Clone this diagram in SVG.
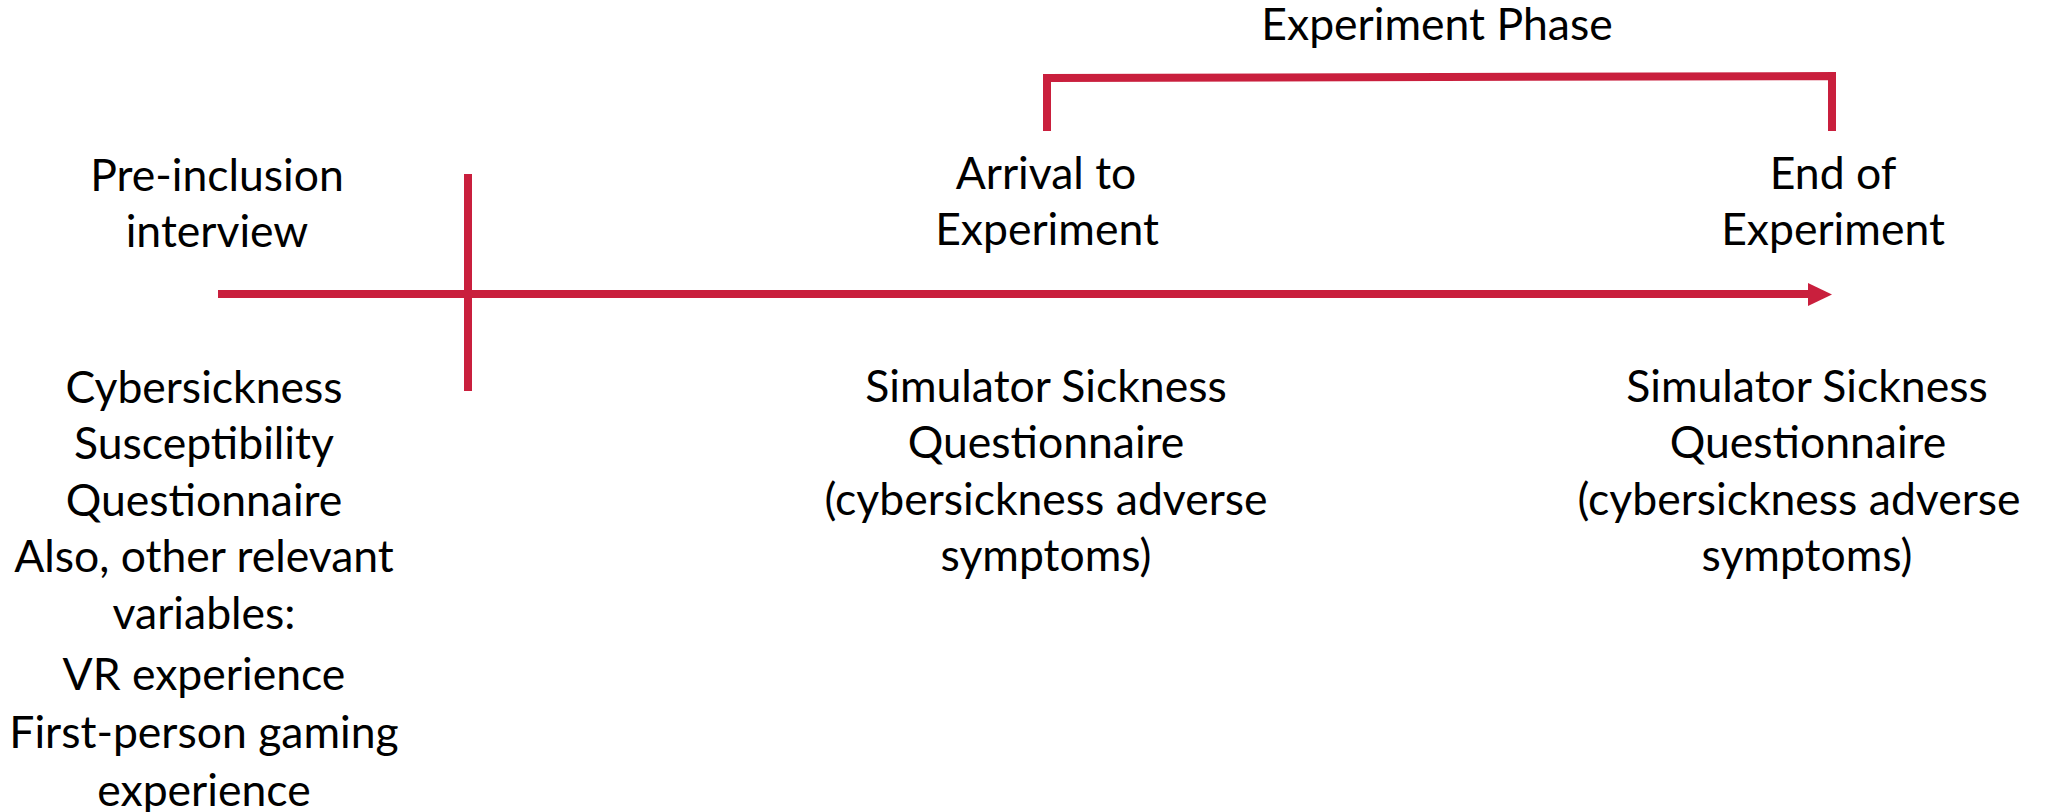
<svg xmlns="http://www.w3.org/2000/svg" width="2049" height="812" viewBox="0 0 2049 812">
<style>
  .t { font-family: Lato, "Open Sans", "Liberation Sans", sans-serif; font-size: 44.5px; fill: #000; text-anchor: middle; }
  .ln { stroke: #C91F3D; stroke-width: 8; fill: none; }
</style>
<rect width="2049" height="812" fill="#fff"/>
<g id="connectors">
  <line class="ln" x1="218" y1="294" x2="1812" y2="294"/>
  <polygon points="1808,283 1832,294.5 1808,306" fill="#C91F3D"/>
  <line class="ln" x1="468" y1="174" x2="468" y2="391"/>
  <polyline class="ln" points="1047,131 1047,78 1832,76 1832,131" stroke-linejoin="miter" stroke-linecap="butt"/>
</g>
<g id="phase-label">
  <text class="t" x="1437" y="40">Experiment Phase</text>
</g>
<g id="pre-inclusion">
  <text class="t" x="217" y="191">Pre-inclusion</text>
  <text class="t" x="217" y="247">interview</text>
</g>
<g id="arrival">
  <text class="t" x="1046" y="189">Arrival to</text>
  <text class="t" x="1047" y="245">Experiment</text>
</g>
<g id="end">
  <text class="t" x="1833" y="189">End of</text>
  <text class="t" x="1833" y="245">Experiment</text>
</g>
<g id="pre-inclusion-measures">
  <text class="t" x="204" y="403">Cybersickness</text>
  <text class="t" x="204" y="459">Susceptibility</text>
  <text class="t" x="204" y="516">Questionnaire</text>
  <text class="t" x="204" y="572">Also, other relevant</text>
  <text class="t" x="204" y="629">variables:</text>
  <text class="t" x="204" y="690">VR experience</text>
  <text class="t" x="204" y="748">First-person gaming</text>
  <text class="t" x="204" y="806">experience</text>
</g>
<g id="arrival-measures">
  <text class="t" x="1046" y="402">Simulator Sickness</text>
  <text class="t" x="1046" y="458">Questionnaire</text>
  <text class="t" x="1046" y="515">(cybersickness adverse</text>
  <text class="t" x="1046" y="571">symptoms)</text>
</g>
<g id="end-measures">
  <text class="t" x="1807" y="402">Simulator Sickness</text>
  <text class="t" x="1808" y="458">Questionnaire</text>
  <text class="t" x="1799" y="515">(cybersickness adverse</text>
  <text class="t" x="1807" y="571">symptoms)</text>
</g>
</svg>
